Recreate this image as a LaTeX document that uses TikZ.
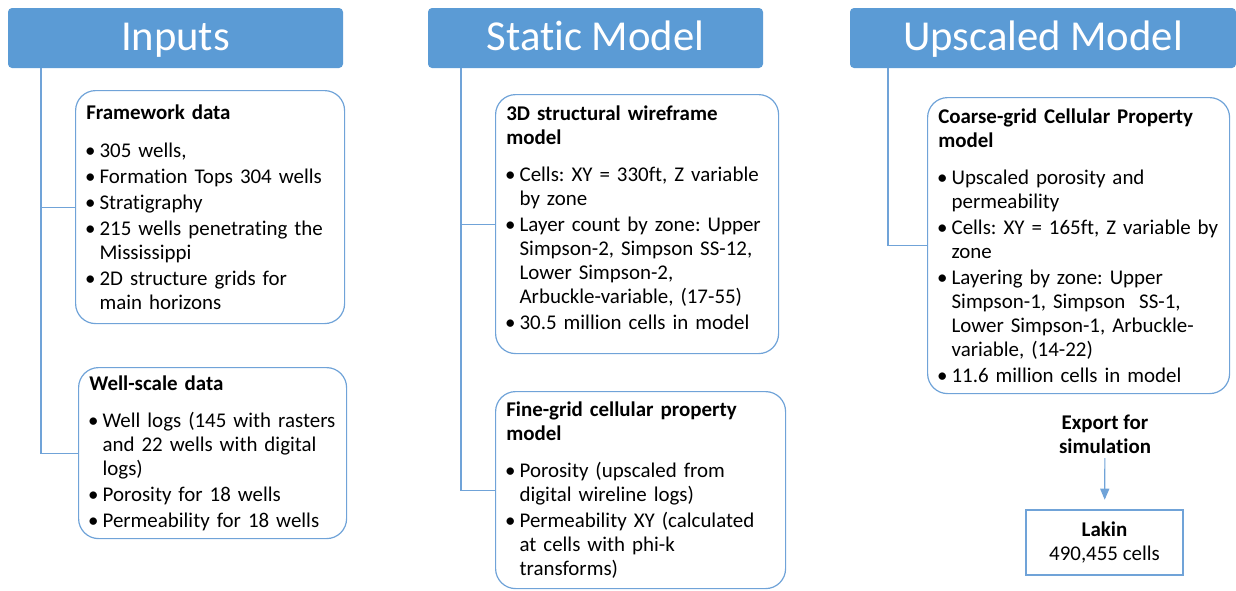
\documentclass[tikz,border=0pt]{standalone}
\usepackage{fontspec}
\setmainfont{Carlito}[Ligatures=NoCommon]
\usepackage{enumitem}
\usetikzlibrary{arrows,positioning}
\definecolor{hdrblue}{RGB}{91,155,213}
\definecolor{lineblue}{RGB}{112,163,216}
\newcommand{\blist}[1]{\begin{itemize}[leftmargin=10pt,labelsep=3pt,labelwidth=5pt,itemsep=1.5pt,parsep=0pt,topsep=10pt,partopsep=0pt,label=\textbullet]#1\end{itemize}}

\begin{document}
\begin{tikzpicture}[x=0.75pt,y=-0.75pt]
        \tikzset{header/.style={fill=hdrblue, rectangle, rounded corners=3pt, text=white, font=\fontsize{32}{38}\selectfont, minimum height=45pt, inner sep=0pt, text height=24pt, text depth=6pt},
        rbox/.style={draw=lineblue, line width=0.9pt, rectangle, rounded corners=15pt, anchor=north west, align=left, inner xsep=8pt, inner ysep=0pt, font=\fontsize{15.7}{18}\selectfont\frenchspacing},
        sbox/.style={draw=lineblue, line width=1.4pt, rectangle, align=center, font=\fontsize{15.7}{18}\selectfont, minimum width=117.75pt, minimum height=48.75pt},
        conn/.style={draw=lineblue, line width=0.9pt},
        }
        \useasboundingbox (0,0) rectangle (1236,590);

        \node [header, minimum width=251.25pt] (inputs) at (175.5,38) {Inputs};
        \node [header, minimum width=251.25pt] (static) at (595.5,38) {Static Model};
        \node [header, minimum width=289.5pt] (upscaled) at (1043,38) {Upscaled Model};

        \node [rbox, text width=185.75pt, minimum height=174.75pt] (frame) at (75,90) {\textbf{Framework data}\blist{\item 305 wells, \item Formation Tops 304 wells \item Stratigraphy \item 215 wells penetrating the\\ Mississippi \item 2D structure grids for\\ main horizons}};
        \node [rbox, text width=185pt, minimum height=128.25pt] (well) at (78,367) {\textbf{Well-scale data}\blist{\item Well logs (145 with rasters\\ and 22 wells with digital\\ logs) \item Porosity for 18 wells \item Permeability for 18 wells}};

        \node [rbox, text width=196.25pt, minimum height=194.25pt] (wire) at (495,94) {\textbf{3D structural wireframe}\\ \textbf{model}\blist{\item Cells: XY = 330ft, Z variable\\ by zone \item Layer count by zone: Upper\\ Simpson-2, Simpson SS-12,\\ Lower Simpson-2,\\ Arbuckle-variable, (17-55) \item 30.5 million cells in model}\vspace{8pt}};
        \node [rbox, text width=201.5pt, minimum height=147.75pt] (fine) at (495,391) {\textbf{Fine-grid cellular property}\\ \textbf{model}\blist{\item Porosity (upscaled from\\ digital wireline logs) \item Permeability XY (calculated\\ at cells with phi-k\\ transforms)}};

        \node [rbox, text width=210.5pt, minimum height=222pt] (coarse) at (927,97) {\textbf{Coarse-grid Cellular Property}\\ \textbf{model}\blist{\item Upscaled porosity and\\ permeability \item Cells: XY = 165ft, Z variable by\\ zone \item Layering by zone: Upper\\ Simpson-1, Simpson\ \ SS-1,\\ Lower Simpson-1, Arbuckle-\\ variable, (14-22) \item 11.6 million cells in model}};

        \node [align=center, font=\fontsize{15.7}{18}\selectfont\bfseries] (export) at (1105,434) {Export for\\ simulation};
        \node [sbox] (lakin) at (1104.5,542.5) {\textbf{Lakin}\\ 490,455 cells};

        \coordinate (inroot) at (41,68);
        \coordinate (stroot) at (461,68);
        \coordinate (uproot) at (888,68);

%% paths
        \draw[conn] (inroot) |- (frame.west);
        \draw[conn] (inroot) |- (well.west);
        \draw[conn] (stroot) |- (wire.west);
        \draw[conn] (stroot) |- (fine.west);
        \draw[conn] (uproot) |- (coarse.west);
        \draw[conn, -triangle 45, shorten >=7pt] (export) -- (lakin);
\end{tikzpicture}
\end{document}
